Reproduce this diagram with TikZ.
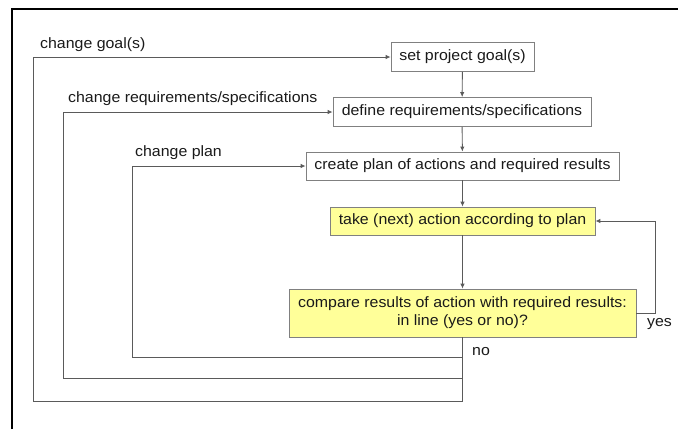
\documentclass[tikz,border=0pt]{standalone}
\usepackage{fontspec}
\setmainfont{Liberation Sans}[FakeStretch=1.06]
\usetikzlibrary{arrows.meta}
\definecolor{boxgray}{HTML}{808080}
\definecolor{linegray}{HTML}{5A5A5A}
\definecolor{yel}{HTML}{FFFF99}
\definecolor{txt}{HTML}{1A1A1A}
\newcommand{\fs}{\fontsize{15pt}{18pt}\selectfont}
\begin{document}
\begin{tikzpicture}[x=1pt,y=-1pt,
  box/.style={draw=boxgray, line width=0.8pt, fill=white, inner sep=0pt, font=\fs, text=txt, align=center},
  ybox/.style={box, fill=yel},
  conn/.style={draw=linegray, line width=0.9pt},
  arr/.style={conn, -{Latex[length=5pt,width=4.5pt]}},
  lbl/.style={font=\fs, text=txt, inner sep=0pt, anchor=west}]
\useasboundingbox (0,0) rectangle (678,429);
\draw[line width=1.6pt] (12,429) -- (12,9) -- (678,9);

\node[box, minimum width=143pt, minimum height=29pt] (goal) at (462.5,57) {set project goal(s)};
\node[box, minimum width=258pt, minimum height=29pt] (req) at (462,112) {define requirements/specifications};
\node[box, minimum width=313pt, minimum height=28pt] (plan) at (462.5,166) {create plan of actions and required results};
\node[ybox, minimum width=265pt, minimum height=28pt] (action) at (462.5,221) {take (next) action according to plan};
\node[ybox, minimum width=347pt, minimum height=48pt] (compare) at (462.5,313) {compare results of action with required results:\\in line (yes or no)?};

\draw[arr] (goal) -- (req);
\draw[arr] (req) -- (plan);
\draw[arr] (plan) -- (action);
\draw[arr] (action) -- (compare);

\coordinate (gbot) at (462.5,401);
\coordinate (gleft) at (33,401);
\coordinate (rbot) at (462.5,378);
\coordinate (rleft) at (63,378);
\coordinate (pbot) at (462.5,357);
\coordinate (pleft) at (132,357);
\coordinate (yright) at (655,313);

\draw[arr] (compare.south) -- (gbot) -- (gleft) |- (goal.west);
\draw[arr] (rbot) -- (rleft) |- (req.west);
\draw[arr] (pbot) -- (pleft) |- (plan.west);
\draw[arr] (compare.east) -- (yright) |- (action.east);

\node[lbl] (lgoal) at (40,45) {change goal(s)};
\node[lbl] (lreq) at (68,99) {change requirements/specifications};
\node[lbl] (lplan) at (135,153) {change plan};
\node[lbl] (lno) at (472,352) {no};
\node[lbl] (lyes) at (647,324) {yes};
\end{tikzpicture}
\end{document}
